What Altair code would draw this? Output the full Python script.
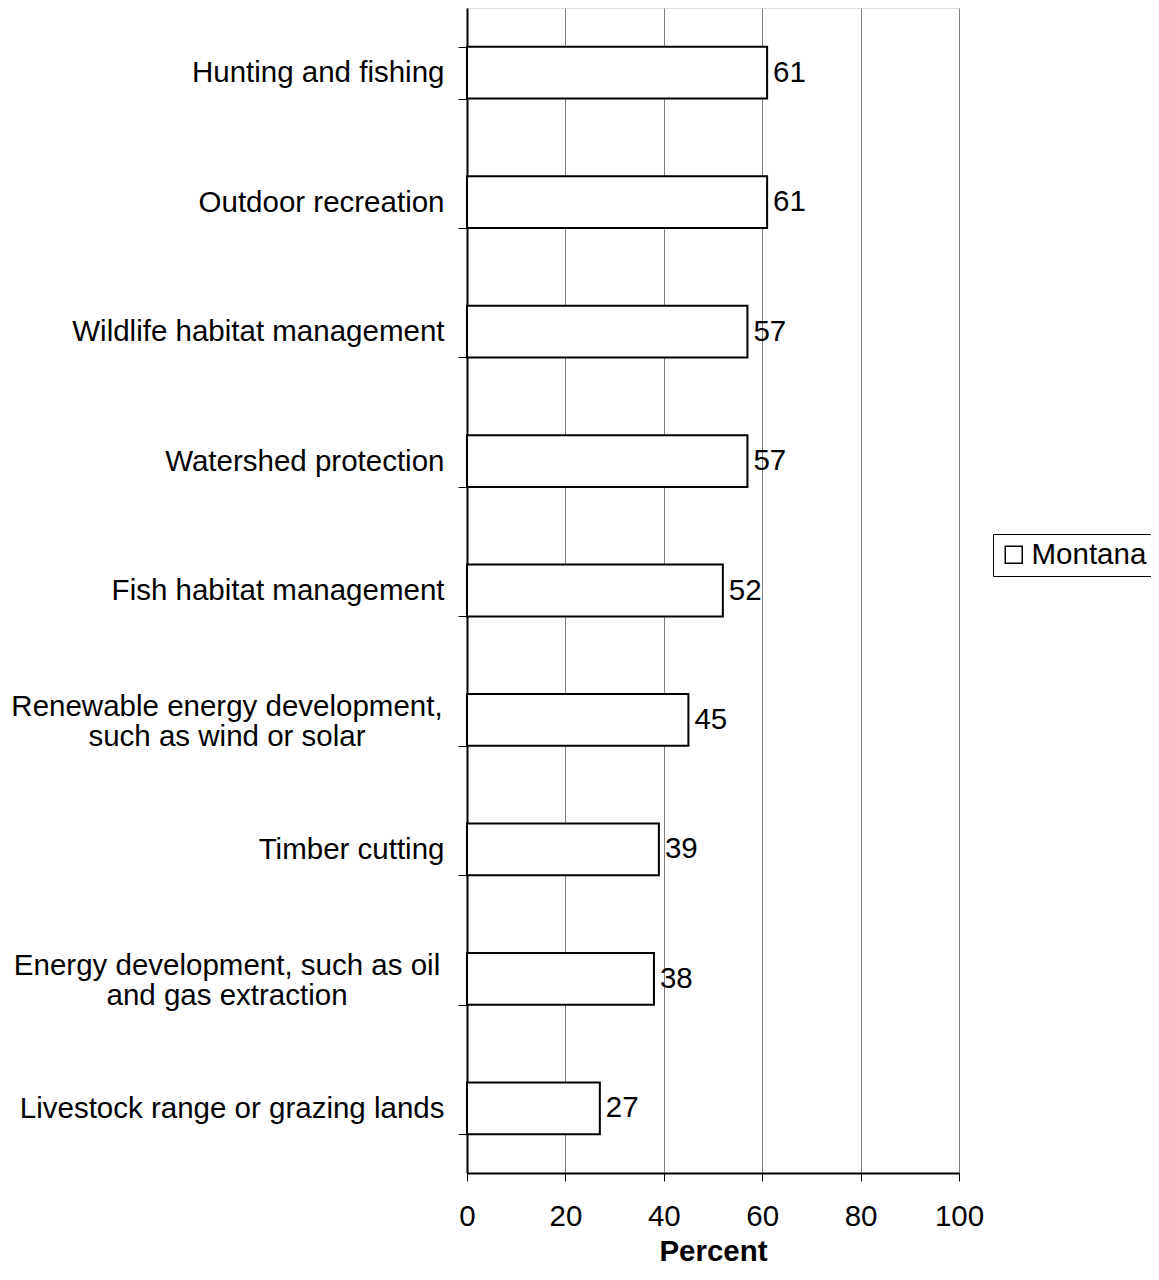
import altair as alt
import pandas as pd

categories = [
    "Hunting and fishing",
    "Outdoor recreation",
    "Wildlife habitat management",
    "Watershed protection",
    "Fish habitat management",
    "Renewable energy development,|such as wind or solar",
    "Timber cutting",
    "Energy development, such as oil|and gas extraction",
    "Livestock range or grazing lands",
]
values = [61, 61, 57, 57, 52, 45, 39, 38, 27]
series = ["Montana"] * len(categories)
x_ticks = [0, 20, 40, 60, 80, 100]

df = pd.DataFrame({"category": categories, "value": values, "series": series})

FONT = "Liberation Sans"
FS = 29.5

y_enc = alt.Y(
    "category:N",
    sort=categories,
    scale=alt.Scale(paddingInner=0.6, paddingOuter=0.3),
    axis=alt.Axis(
        title=None,
        labelExpr="indexof(datum.label, '|') >= 0 ? '' : datum.label",
        labelFont=FONT,
        labelFontSize=FS,
        labelColor="black",
        labelLimit=600,
        labelAlign="right",
        labelPadding=14,
        tickBand="extent",
        tickSize=9,
        tickColor="black",
        tickWidth=1,
        domainColor="black",
        domainWidth=2,
        grid=False,
    ),
)

x_enc = alt.X(
    "value:Q",
    scale=alt.Scale(domain=[0, 100], nice=False),
    axis=alt.Axis(
        title="Percent",
        values=x_ticks,
        format="d",
        labelFont=FONT,
        labelFontSize=FS,
        labelColor="black",
        labelPadding=21,
        labelFlush=False,
        tickSize=8,
        tickColor="black",
        tickWidth=1,
        domainColor="black",
        domainWidth=2,
        grid=True,
        gridColor="#808080",
        gridWidth=1,
        titleFont=FONT,
        titleFontSize=FS,
        titleFontWeight="bold",
        titleColor="black",
        titlePadding=7,
    ),
)

bars = alt.Chart(df).mark_bar(stroke="black", strokeWidth=2).encode(
    y=y_enc,
    x=x_enc,
    fill=alt.Fill(
        "series:N",
        scale=alt.Scale(domain=["Montana"], range=["white"]),
        legend=alt.Legend(
            title=None,
            orient="none",
            legendX=526,
            legendY=526,
            strokeColor="black",
            padding=6,
            symbolType="square",
            symbolSize=289,
            symbolStrokeColor="black",
            symbolStrokeWidth=1.5,
            labelFont=FONT,
            labelFontSize=FS,
            labelColor="black",
            labelOffset=3,
        ),
    ),
)

labels = alt.Chart(df).mark_text(
    align="left", baseline="middle", dx=6, font=FONT, fontSize=FS, color="black"
).encode(
    y=alt.Y("category:N", sort=categories),
    x=alt.X("value:Q"),
    text=alt.Text("value:Q", format="d"),
)

multi_labels = (
    alt.Chart(df)
    .transform_filter("indexof(datum.category, '|') >= 0")
    .transform_calculate(lines="split(datum.category, '|')")
    .mark_text(
        align="center", baseline="middle", dx=-240, dy=-13, font=FONT, fontSize=FS,
        color="black", lineHeight=30,
    )
    .encode(
        y=alt.Y("category:N", sort=categories),
        x=alt.value(0),
        text=alt.Text("lines:N"),
    )
)

chart = (
    alt.layer(bars, labels, multi_labels)
    .properties(
        width=492,
        height=1165,
        padding={"left": 459, "top": 0, "right": 192, "bottom": 95},
        autosize=alt.AutoSizeParams(type="none"),
    )
    .configure_view(stroke="black", strokeWidth=2)
    .configure(background="white")
)

chart.save("out.html", embed_options={"renderer": "svg", "actions": False})
